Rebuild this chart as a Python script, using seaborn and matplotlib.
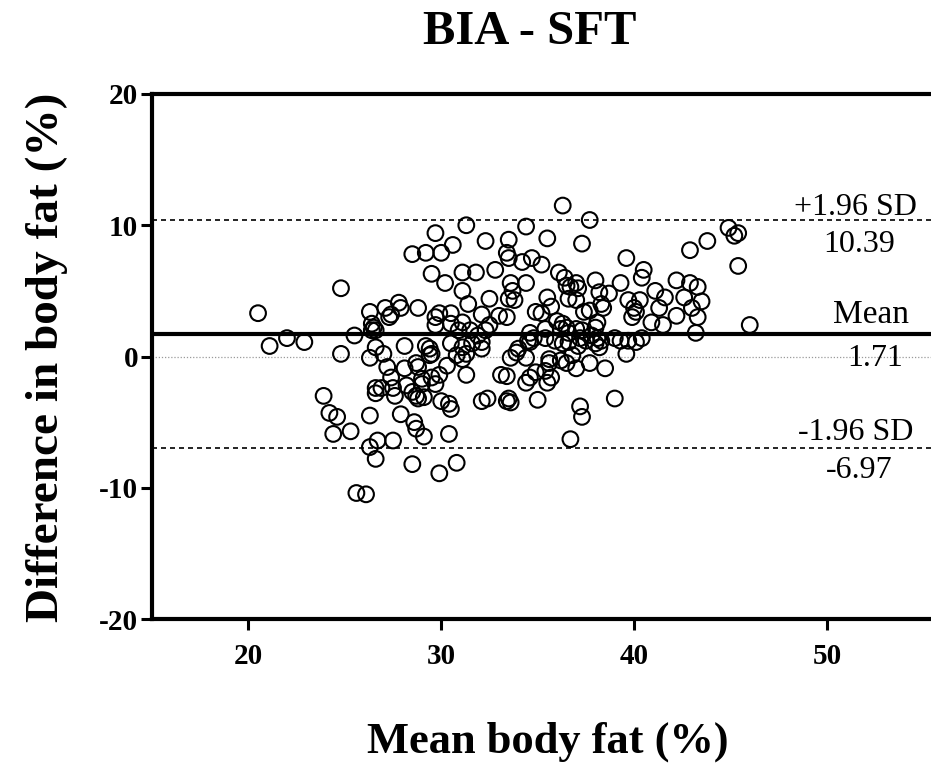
import matplotlib
matplotlib.use("Agg")
import matplotlib.pyplot as plt
import seaborn as sns
import pandas as pd

# ---- text ----
title = "BIA - SFT"
x_label = "Mean body fat (%)"
y_label = "Difference in body fat (%)"
x_ticks = [20, 30, 40, 50]
y_ticks = [-20, -10, 0, 10, 20]

# ---- agreement statistics ----
mean_diff = 1.71
upper_loa = 10.39
lower_loa = -6.97
upper_name = "+1.96 SD"
mean_name = "Mean"
lower_name = "-1.96 SD"

# ---- data ----
mean_fat = [
    20.5, 21.1, 22.0, 22.9, 24.8, 25.5, 24.8, 26.3, 27.1, 27.8, 27.9, 27.4, 27.3, 26.4, 26.5, 26.4,
    26.6, 26.6, 27.0, 26.3, 27.2, 27.4, 26.6, 26.6, 26.9, 27.5, 27.6, 23.9, 24.2, 24.6, 24.4, 25.3,
    26.3, 26.3, 26.7, 26.6, 25.6, 26.1, 27.5, 27.9,
    28.1, 28.1, 28.7, 28.8, 29.4, 29.5, 29.0, 29.0, 28.2, 28.5, 28.7, 29.1, 28.8, 29.5, 29.7, 28.6,
    28.7, 29.1, 28.5, 29.9, 28.8, 29.5, 29.7, 29.7, 28.5, 29.2, 30.0, 29.7, 30.6, 29.2,
    31.3, 34.4, 32.3, 33.5, 33.4, 33.5, 34.2, 34.7, 35.2, 31.1, 31.8, 32.8, 30.2, 31.1, 33.6, 33.7,
    33.5, 33.8, 34.4, 32.5, 31.4, 29.9, 30.5, 32.1, 33.0, 33.4, 34.9, 35.2, 30.5, 30.9, 31.5, 31.9,
    32.3, 31.1, 32.5, 34.6, 34.6, 29.4, 30.5, 31.1, 31.6, 32.1, 32.1, 31.3, 31.1, 29.9, 30.3, 31.3,
    30.8, 33.1, 33.4, 33.6, 33.9, 34.4, 34.0, 34.6, 34.9, 30.0, 30.4, 30.5, 32.1, 32.4, 33.4, 33.6,
    33.5, 35.0, 30.4, 30.8, 34.5, 34.8, 34.4,
    35.4, 35.7, 35.6, 35.4, 35.5, 35.5, 35.7, 35.4, 35.9, 35.6, 35.5,
    36.3, 37.7, 37.3, 36.1, 36.4, 36.5, 37.0, 37.1, 36.7, 38.0, 36.3, 36.5, 36.6, 37.4, 37.2, 37.8,
    38.0, 36.6, 37.0, 36.0, 36.2, 36.3, 37.5, 38.1, 38.3, 39.0, 39.3, 39.7, 40.4, 38.1, 39.9, 38.3,
    38.4, 38.2, 38.7, 39.3, 39.6, 40.5, 40.4, 39.7, 40.3, 40.0, 40.1, 37.7, 38.0, 40.1, 39.6, 37.7,
    38.5, 39.0, 37.2, 37.3, 36.7, 36.6, 37.1, 38.2, 36.2, 36.5, 36.8, 37.0, 37.0, 37.3,
    44.9, 45.2, 45.4, 43.8, 42.9, 45.4, 42.2, 42.9, 43.3, 41.1, 41.6, 42.6, 43.5, 43.0, 41.3, 42.2,
    43.3, 40.9, 41.5, 46.0, 43.2,
]
diff_fat = [
    3.3, 0.8, 1.4, 1.1, 5.2, 1.6, 0.2, 3.4, 3.7, 4.1, 3.7, 3.2, 3.0, 2.5, 2.2, 2.0,
    2.0, 0.7, 0.2, -0.1, -0.8, -1.6, -2.4, -2.8, -2.4, -2.4, -3.0, -3.0, -4.3, -4.6, -5.9, -5.7,
    -4.5, -6.9, -6.4, -7.8, -10.4, -10.5, -6.4, -4.4,
    0.8, -0.9, -0.5, -0.8, 0.1, 0.2, -1.7, -2.1, -2.2, -2.7, -3.0, -3.1, -3.2, -1.6, -2.1, -5.0,
    -5.5, -6.1, -8.2, -8.9, 3.7, 6.3, 3.0, 2.4, 7.8, 7.9, 7.9, 9.4, 8.5, 0.8,
    10.0, 9.9, 8.8, 8.9, 7.9, 7.5, 7.2, 7.5, 7.0, 6.4, 6.4, 6.6, 5.6, 5.0, 5.6, 5.0,
    4.4, 4.3, 5.6, 4.4, 4.0, 3.3, 3.3, 3.2, 3.1, 3.0, 3.4, 3.3, 2.5, 2.0, 2.0, 1.6,
    2.0, 2.6, 2.4, 1.8, 1.1, 0.6, 1.0, 0.7, 1.0, 0.6, 1.1, 0.2, -0.2, -1.4, -0.7, -1.4,
    0.1, -1.4, -1.5, -0.1, 0.3, -0.1, 0.6, -1.6, -1.2, -3.4, -3.6, -4.0, -3.4, -3.2, -3.4, -3.5,
    -3.2, -3.3, -5.9, -8.1, 1.2, 1.4, -2.0,
    -1.1, -1.6, -0.5, 2.1, 9.0, 4.5, 3.8, 1.4, 1.2, -0.2, -2.0,
    11.5, 10.4, 8.6, 6.4, 6.0, 5.4, 5.6, 5.2, 5.3, 5.8, 2.5, 2.2, 1.8, 3.4, 1.4, 1.6,
    2.2, 4.4, 4.3, 2.7, 2.1, 1.0, 1.2, 1.4, 1.2, 1.4, 1.2, 1.2, 1.4, 2.6, 3.0, 4.0,
    3.7, 4.9, 4.8, 5.6, 7.5, 6.6, 6.0, 4.3, 4.3, 3.7, 3.4, 3.5, 1.0, 1.1, 0.2, -0.5,
    -0.9, -3.2, -3.8, -4.6, -6.3, 1.1, 0.8, 0.7, -0.3, -0.5, 0.1, -0.9, 2.1, 2.0,
    9.8, 9.2, 9.4, 8.8, 8.1, 6.9, 5.8, 5.6, 5.3, 5.0, 4.5, 4.5, 4.2, 3.7, 3.7, 3.1,
    3.0, 2.6, 2.4, 2.4, 1.8,
]

df = pd.DataFrame({"mean": mean_fat, "diff": diff_fat})

sns.set_theme(style="ticks")
plt.rcParams["font.family"] = ["Liberation Serif", "DejaVu Serif"]
plt.rcParams["text.color"] = "black"
plt.rcParams["axes.labelcolor"] = "black"
plt.rcParams["xtick.color"] = "black"
plt.rcParams["ytick.color"] = "black"
plt.rcParams["xtick.labelcolor"] = "black"
plt.rcParams["ytick.labelcolor"] = "black"

W, H = 931, 765
fig = plt.figure(figsize=(W / 100, H / 100), dpi=100)
ax = fig.add_axes([152 / W, 1 - 619 / H, (W - 152) / W, 525 / H])

# reference lines
ax.axhline(0, color="#9a9a9a", lw=0.9, ls=(0, (1, 1.5)), zorder=1)
ax.axhline(mean_diff, color="black", lw=3.0, zorder=2)
ax.axhline(upper_loa, color="black", lw=1.2, ls=(0, (3, 2.4)), zorder=2)
ax.axhline(lower_loa, color="black", lw=1.2, ls=(0, (3, 2.4)), zorder=2)

sns.scatterplot(data=df, x="mean", y="diff", ax=ax, s=128, marker="o",
                linewidth=1.5, edgecolor="black", zorder=3, legend=False)
for c in ax.collections:
    c.set_facecolor("none")
    c.set_edgecolor("black")

ax.set_xlim(15, 55.4)
ax.set_ylim(-20, 20)
ax.set_xticks(x_ticks, labels=[str(t) for t in x_ticks], fontsize=21, fontweight="bold")
ax.set_yticks(y_ticks, labels=[str(t) for t in y_ticks], fontsize=21, fontweight="bold")
ax.tick_params(axis="y", direction="out", length=8, width=2.2, pad=2, colors="black")
ax.tick_params(axis="x", direction="out", length=8, width=2.2, pad=9, colors="black")
ax.set_xlabel("")
ax.set_ylabel("")
for side in ["left", "bottom", "top"]:
    ax.spines[side].set_linewidth(3)
    ax.spines[side].set_color("black")
ax.spines["right"].set_visible(False)
ax.grid(False)

# line annotations
ann_size = 23
ax.text(51.5, 10.75, upper_name, ha="center", va="baseline", fontsize=ann_size, color="black")
ax.text(51.7, 7.93, f"{upper_loa:.2f}", ha="center", va="baseline", fontsize=ann_size, color="black")
ax.text(52.3, 2.52, mean_name, ha="center", va="baseline", fontsize=24, color="black")
ax.text(52.5, -0.69, f"{mean_diff:.2f}", ha="center", va="baseline", fontsize=ann_size, color="black")
ax.text(51.5, -6.40, lower_name, ha="center", va="baseline", fontsize=ann_size, color="black")
ax.text(51.7, -9.22, f"{lower_loa:.2f}", ha="center", va="baseline", fontsize=ann_size, color="black")

fig.text(530 / W, 1 - 32 / H, title, ha="center", va="center", fontsize=35,
         fontweight="bold", color="black")
fig.text(47 / W, 1 - 357 / H, y_label, ha="center", va="center", rotation=90,
         fontsize=34, fontweight="bold", color="black")
fig.text(548 / W, 1 - 742 / H, x_label, ha="center", va="center", fontsize=32,
         fontweight="bold", color="black")

fig.savefig("out.png", dpi=100)
